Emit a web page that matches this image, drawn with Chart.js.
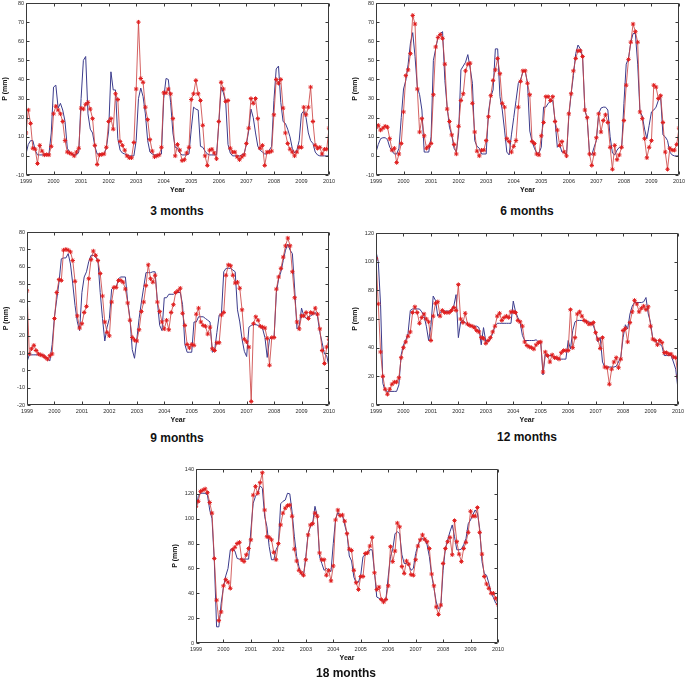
<!DOCTYPE html>
<html lang="en">
<head>
<meta charset="UTF-8">
<title>Observed and forecast precipitation, 3 to 18 months</title>
<script src="https://cdn.jsdelivr.net/npm/chart.js"></script>
<style>
  body { margin: 0; background: #fff; width: 685px; height: 679px; position: relative; overflow: hidden; }
  canvas { position: absolute; }
  .ttl { position: absolute; width: 140px; text-align: center; font: bold 12px "Liberation Sans", Arial, sans-serif; line-height: 14px; color: #111; }
</style>
</head>
<body>
<canvas id="p3"></canvas>
<canvas id="p6"></canvas>
<canvas id="p9"></canvas>
<canvas id="p12"></canvas>
<canvas id="p18"></canvas>

<script>
// tick labels on the x axis (monthly data from Jan 1999 to Jan 2010)
const years = [1999, 2000, 2001, 2002, 2003, 2004, 2005, 2006, 2007, 2008, 2009, 2010];
const monthX = Array.from({ length: 133 }, (_, i) => 1999 + i / 12);

// 3 months: observed (blue) and predicted (red)
const obs3 = [
  1, 6, 8, 8, 3, 0.5, 0.5, 0.5, 0.5, 0.5, 1, 12,
  36, 37, 25, 27.5, 24, 18, 4, 2, 1, 0.5, 0.5, 2,
  30, 50, 52, 22, 14, 12, 5, 1, 1, 1, 1, 4,
  13, 44, 34.5, 34.5, 9, 3, 1.5, 1, 0.5, 0, 0, 0,
  8, 30, 35.5, 31, 22, 8, 2, 1, 0.5, 0.5, 0.5, 1,
  30, 40.5, 40, 28, 12, 4.5, 4, 1.5, 0.5, 0.5, 0.5, 1,
  14, 25.5, 24.5, 24, 5, 4.5, 2.5, 1, 0.5, 0.5, 0.5, 0.5,
  17, 36, 33, 28, 6, 1.5, 0, 0, 0, 0, 0.5, 1,
  6, 13, 24.5, 20, 12, 5, 3, 2, 1, 1, 3, 5,
  29, 45.5, 47, 28, 18, 17, 14, 10, 4, 1.5, 3, 8,
  22, 23.5, 20, 12, 8, 6.5, 2, 0.5, 0, 0, 0, 0,
  0
];
const sim3 = [
  12, 24, 17, 4, 3.5, -4, 5.5, 2.5, 0.5, 0.7, 0.5, 5,
  22, 26, 24, 22, 18, 8, 2, 1.5, 1, 0, 2, 4,
  25, 24.5, 27, 28, 24.5, 19.5, 5.5, -4.5, 0.5, 0.7, 1, 4.5,
  18, 19.5, 14, 32.5, 29.5, 7.5, 5.5, 3, 0, -1, -1, 7,
  35, 70, 40.5, 38.5, 25.5, 19, 8.5, 2.5, -0.5, 0, 0.5, 4.5,
  33, 33, 35, 32.5, 19.5, 0, 6, 3, -2.5, -2, 1.5, 4.5,
  29.5, 32.5, 39.5, 32.5, 29, 16, 0, -5, 3, 3.5, 1.5, -1.5,
  18, 38.5, 35, 28.5, 29, 4, 2, 2, -0.5, -2, -0.5, 0.5,
  6.5, 14.5, 30, 27.5, 30, 19.5, 4, 5.5, -5, 2, 2, 2.5,
  21.5, 40, 38, 40, 25, 12, 6.5, 3.5, 2, 0, 2, 4.5,
  4.5, 25.5, 21.5, 25.5, 36, 18, 5.5, 4, 4.5, 1, 3.5, 3.5,
  14.5
];

// 6 months
const obs6 = [
  2, 6, 9, 9.5, 9.5, 8.5, 4.5, 2.5, 1, 1, 4, 20,
  35, 39.5, 48, 59, 64.5, 52, 36, 32, 24, 2, 2, 2,
  10, 50, 56, 62, 64, 65, 39.5, 25.5, 15, 11, 4, 2,
  12, 45, 47, 49, 53, 46, 38, 8, 5, 4, 1, 1,
  1, 23, 31, 34.5, 56, 56, 31, 24, 13.5, 2, 0.5, 11,
  20, 29, 38, 40, 44, 44.5, 38, 13, 7.5, 4, 1.5, 1.5,
  4.5, 25.5, 25.5, 27.5, 28.5, 29, 18.5, 4.5, 6, 2, 2, 0.5,
  20.5, 32.5, 42, 53.5, 58, 56, 52, 24, 19.5, 1.5, 0.5, 4.5,
  8, 22, 25, 25.5, 25.5, 24, 10, 1.5, 0.5, 3, 4.5, 4,
  27.5, 48, 51, 59.5, 64, 64, 48, 23, 21, 14, 9, 16,
  23, 24, 25.5, 29, 31, 11, 10, 8, 2, 0.5, 0, 0,
  0
];
const sim6 = [
  15, 16, 13.5, 14.5, 15.5, 15, 9, 3, 4, -3.5, 1, 6.5,
  23, 42, 45, 53.5, 73.5, 69, 35, 12.5, 19.5, 10.5, 4, 5,
  6.5, 32, 57, 62, 63.5, 61.5, 48, 24.5, 18, 11, 6, 1,
  15.5, 29, 32.5, 44.5, 48, 48.5, 27.5, 12.5, 2.5, 0, 3, 3,
  8, 20.5, 31.5, 39.5, 45, 51, 43, 27.5, 25.5, 9, 7.5, 2,
  5, 8, 25.5, 39, 44.5, 44.5, 38, 32, 7.5, 6.5, 1, 0.5,
  10.5, 17.5, 31, 31, 29, 31, 18, 13.5, 5.5, 7.5, 2, 0,
  22, 32.5, 44.5, 51, 55, 55, 52, 24, 20, 1, -5, 1,
  9.5, 22, 12.5, 18.5, 21.5, 17.5, 4.5, -7, 5.5, -2, 0.5, 4.5,
  18.5, 37, 50.5, 59.5, 69, 65, 59.5, 23, 19.5, 9, -1, 4.5,
  8, 37, 36, 30, 31.5, 17.5, 2, -7, 4, 3, 3, 6,
  14.5
];

// 9 months
const obs9 = [
  5, 9, 9, 9, 9, 9, 9, 9, 8, 6.5, 5.5, 15,
  31, 41, 51, 64.5, 65, 65, 67.5, 61.5, 50, 37.5, 28, 23,
  45, 54, 57, 63, 66.5, 66.5, 65.5, 63.5, 45, 30, 17, 25,
  30, 47, 48, 48, 53, 54, 54, 54, 40, 30, 12, 7,
  18, 30, 39.5, 48, 56.5, 56.5, 56.5, 57, 57, 39.5, 26, 23,
  42, 42, 44, 44, 44, 45, 45, 45, 38, 15, 10.5, 10.5,
  10.5, 28, 28, 31, 31, 31, 30, 29, 28, 10.5, 11.5, 22,
  32, 33, 57, 59, 59, 59, 58, 57, 35, 28, 18, 11,
  8, 25, 26, 26.5, 26.5, 26, 25, 24, 19, 7.5, 18, 19,
  19, 45, 53, 57, 63.5, 69.5, 73, 69.5, 67.5, 47, 24, 25.5,
  36, 31.5, 30, 31, 31.5, 32.5, 33.5, 31, 22, 16, 9.5, 8.5,
  2
];
const sim9 = [
  46, 9.5, 12.5, 14.5, 11.5, 9.5, 9, 8.5, 7.5, 6.5, 8.5, 9.5,
  30, 45, 52.5, 52, 69.5, 70, 69.5, 68.5, 63.5, 51.5, 31.5, 24.5,
  27, 33.5, 37, 53, 64, 69, 66.5, 63.5, 56, 43, 28, 22,
  20, 39.5, 48, 48, 52, 52, 51, 47, 39, 29, 19, 17.5,
  17, 23.5, 34, 39.5, 49, 61, 53, 51, 55, 39.5, 34, 28,
  24, 29, 23.5, 33.5, 38, 45, 46, 47.5, 33, 26, 15, 13,
  15, 14.5, 32.5, 36, 28, 26, 25.5, 21, 25, 12.5, 11.5, 16,
  16, 32, 33.5, 55, 61, 60.5, 55, 50.5, 51, 47.5, 35, 18,
  16.5, 13.5, -18, 27, 31, 29, 25.5, 25, 24.5, 18.5, 3, 19,
  19, 47, 54, 59, 65.5, 72, 76.5, 72, 57, 42, 28, 24,
  31.5, 31.5, 33.5, 30, 33.5, 33, 36, 32.5, 24, 11.5, 4, 13.5,
  18
];

// 12 months
const obs12 = [
  107, 100, 70, 15, 10, 9.5, 9.5, 9.5, 9.5, 9.5, 14, 35,
  42, 45, 50, 66, 67, 67, 67, 67, 65, 62, 55, 45,
  55, 76, 73, 62, 64.5, 66, 65.5, 65.5, 65.5, 66, 69, 77,
  47, 58, 59, 57.5, 56, 56, 55, 55, 55, 54, 42, 54,
  44, 44, 46, 50, 55, 57, 57, 57, 57, 57, 57, 57,
  72.5, 65, 61, 57.5, 48.5, 45, 45, 45, 45, 45, 45.5, 44,
  44, 21, 35.5, 33.5, 34.5, 34.5, 33, 32, 32, 32, 32, 32,
  45, 39, 52, 58, 59, 59, 59, 58.5, 58, 58, 57.5, 55.5,
  50.5, 44, 47, 30, 26.5, 26.5, 26.5, 26.5, 26.5, 27, 30, 33.5,
  47, 56, 53, 63.5, 69, 71.5, 71.5, 71.5, 71.5, 72, 75, 63.5,
  57.5, 46, 46, 42.5, 42.5, 41, 34.5, 34.5, 34.5, 34.5, 30, 25,
  11
];
const sim12 = [
  102, 70.5, 37, 20, 11, 7.5, 11, 14.5, 16, 16, 19, 33,
  40, 44, 48, 51, 64.5, 68.5, 64.5, 57, 61, 63.5, 60, 58,
  45, 62, 71, 72, 62, 66, 64.5, 64.5, 64.5, 66, 68, 66,
  84, 60, 57.5, 64, 56.5, 55.5, 55, 54, 52, 51, 47, 46.5,
  43, 45, 47, 51, 55, 62, 64, 59, 61, 62, 61, 65,
  65, 64.5, 59, 58, 55, 44, 41.5, 40.5, 40, 39, 42, 43.5,
  44, 23, 37, 34.5, 30, 35, 33, 33, 32, 36.5, 38, 38,
  38, 66.5, 40, 47, 63.5, 65, 62, 59, 58, 56.5, 56.5, 57.5,
  50.5, 46, 39.5, 47, 26.5, 26, 14.5, 25, 30, 33, 26, 32,
  52, 53.5, 44, 57.5, 65, 73, 70.5, 65, 67.5, 69, 66.5, 68.5,
  55, 46, 45, 42, 45, 43.5, 36.5, 36.5, 35.5, 35.5, 33.5, 33,
  20
];

// 18 months
const obs18 = [
  107, 118, 120.5, 120.5, 120.5, 119, 107, 100, 66, 13, 13, 32,
  45, 54, 60, 75, 76, 74, 68, 67.5, 67.5, 67.5, 67.5, 67.5,
  91, 112.5, 118, 120.5, 126.5, 124.5, 102, 93.5, 77.5, 67, 67, 75,
  79, 112, 114, 115, 120.5, 120, 105.5, 85.5, 69.5, 61.5, 55, 54.5,
  69.5, 88, 93.5, 96.5, 110, 102, 69.5, 64, 58.5, 60, 58.5, 57.5,
  80, 99.5, 105, 102, 103, 95, 88, 70, 66, 53, 48.5, 49,
  54.5, 69.5, 71, 72, 75, 75, 57.5, 37, 36, 34.5, 33, 35,
  53, 69.5, 75.5, 88, 89.5, 88, 71, 64, 64, 62.5, 58.5, 60,
  72, 79, 83, 84, 83, 79, 69.5, 54.5, 44, 33, 27.5, 29,
  58.5, 76, 83, 89.5, 95, 85.5, 75, 75, 75.5, 79, 84, 96,
  99, 103, 107, 104.5, 92, 65.5, 56, 54.5, 48, 40, 36.5, 32,
  31
];
const sim18 = [
  110, 114, 122, 123, 124, 121, 113, 104.5, 68, 34.5, 18, 25,
  46, 51, 49, 44, 75, 77, 80, 81, 67, 65.5, 71, 76,
  83, 119, 126, 120.5, 129, 137, 107, 85.5, 85, 83, 73, 67,
  80, 95, 104.5, 108.5, 110.5, 111, 102, 75.5, 66, 58.5, 56.5, 54.5,
  67, 87, 95, 96, 104.5, 102, 72.5, 67, 67, 54.5, 58.5, 50,
  62, 99, 107, 102.5, 103, 98, 88, 75.5, 74.5, 58.5, 48.5, 43,
  53.5, 53.5, 72, 72.5, 78, 85, 56.5, 43, 45, 35, 33, 35,
  46, 77.5, 65.5, 74, 96.5, 93.5, 61.5, 56, 66, 63.5, 55, 54.5,
  67, 78, 83, 87, 83.5, 81.5, 76, 55.5, 46, 29, 23, 30.5,
  64, 76, 81.5, 85, 71, 98.5, 81.5, 71.5, 65.5, 76, 81, 89,
  106, 102, 102, 109, 89, 71.5, 53.5, 47.5, 44, 40, 40, 36,
  31
];

// frame with inward ticks on all four sides, matlab style
const framePlugin = {
  id: 'frame',
  afterDatasetsDraw(chart) {
    const { ctx, chartArea: a, scales: { x, y } } = chart;
    const l = Math.round(a.left) + 0.5, r = Math.round(a.right) - 0.5;
    const t = Math.round(a.top) + 0.5, b = Math.round(a.bottom) - 0.5;
    ctx.save();
    ctx.strokeStyle = '#3a3a3a';
    ctx.lineWidth = 1;
    ctx.beginPath();
    ctx.rect(l, t, r - l, b - t);
    x.ticks.forEach(tk => {
      const px = Math.round(x.getPixelForValue(tk.value)) + 0.5;
      ctx.moveTo(px, t); ctx.lineTo(px, t + 3);
      ctx.moveTo(px, b); ctx.lineTo(px, b - 3);
    });
    y.ticks.forEach(tk => {
      const py = Math.round(y.getPixelForValue(tk.value)) + 0.5;
      ctx.moveTo(l, py); ctx.lineTo(l + 3, py);
      ctx.moveTo(r, py); ctx.lineTo(r - 3, py);
    });
    ctx.stroke();
    ctx.restore();
  }
};

const tickFont = { family: '"Liberation Sans", Arial, sans-serif', size: 5.5 };
const labelFont = { family: '"Liberation Sans", Arial, sans-serif', size: 7, weight: 'bold' };

function makePanel(id, obs, sim, yMin, yMax, yStep, L, T, R, B, title) {
  const cv = document.getElementById(id);
  const w = 26 + (R - L) + 12, h = 8 + (B - T) + 25;
  cv.width = w; cv.height = h;
  cv.style.left = (L - 26) + 'px';
  cv.style.top = (T - 8) + 'px';

  new Chart(cv.getContext('2d'), {
    type: 'line',
    data: {
      datasets: [
        {
          label: 'predicted',
          data: sim.map((v, i) => ({ x: monthX[i], y: v })),
          borderColor: 'rgba(205, 70, 70, 0.85)',
          borderWidth: 1,
          pointStyle: 'star',
          pointRadius: 2.2,
          pointBorderColor: '#e01e1e',
          pointBorderWidth: 1,
          tension: 0
        },
        {
          label: 'observed',
          data: obs.map((v, i) => ({ x: monthX[i], y: v })),
          borderColor: '#3b3b8c',
          borderWidth: 1,
          pointRadius: 0,
          tension: 0
        }
      ]
    },
    options: {
      responsive: false,
      animation: false,
      devicePixelRatio: 1,
      layout: { padding: { left: 0, top: 8, right: 12, bottom: 0 } },
      plugins: { legend: { display: false }, tooltip: { enabled: false } },
      scales: {
        x: {
          type: 'linear',
          min: years[0],
          max: years[years.length - 1],
          afterFit: s => { s.height = 25; },
          afterBuildTicks: s => { s.ticks = years.map(v => ({ value: v })); },
          grid: { display: false, drawTicks: false },
          border: { display: false },
          ticks: {
            autoSkip: false, maxRotation: 0, padding: 3,
            font: tickFont, color: '#2a2a2a',
            callback: v => String(v)
          },
          title: { display: true, text: 'Year', font: labelFont, color: '#111', padding: { top: 0, bottom: 5.3 } }
        },
        y: {
          min: yMin,
          max: yMax,
          afterFit: s => { s.width = 26; },
          grid: { display: false, drawTicks: false },
          border: { display: false },
          ticks: { stepSize: yStep, padding: 2, font: tickFont, color: '#2a2a2a' },
          title: { display: true, text: 'P (mm)', font: labelFont, color: '#111', padding: { top: 1, bottom: 0 } }
        }
      }
    },
    plugins: [framePlugin]
  });

  const d = document.createElement('div');
  d.className = 'ttl';
  d.textContent = title.text;
  d.style.left = (title.cx - 70) + 'px';
  d.style.top = (title.cy - 7) + 'px';
  document.body.appendChild(d);
}

makePanel('p3', obs3, sim3, -10, 80, 10, 26, 3, 329, 175, { text: '3 months', cx: 177, cy: 211 });
makePanel('p6', obs6, sim6, -10, 80, 10, 376, 3, 679, 175, { text: '6 months', cx: 527, cy: 211 });
makePanel('p9', obs9, sim9, -20, 80, 10, 27, 232, 329, 405, { text: '9 months', cx: 177, cy: 438 });
makePanel('p12', obs12, sim12, 0, 120, 20, 376, 233, 678, 405, { text: '12 months', cx: 527, cy: 437 });
makePanel('p18', obs18, sim18, 0, 140, 20, 196, 469, 498, 643, { text: '18 months', cx: 346, cy: 673 });
</script>
</body>
</html>
